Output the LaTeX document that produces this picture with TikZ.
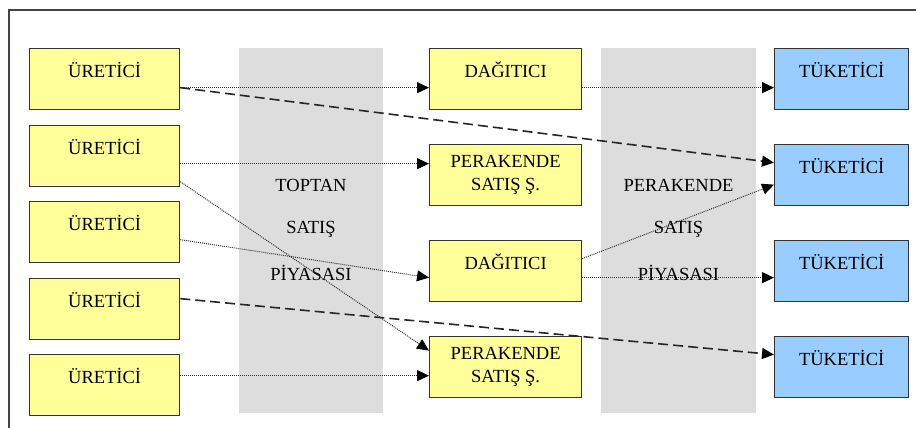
\documentclass[tikz,border=0pt]{standalone}
\usepackage{fontspec}
\setmainfont{Liberation Serif}
\usetikzlibrary{arrows.meta}
\definecolor{yel}{HTML}{FFFF99}
\definecolor{blu}{HTML}{99CCFF}
\definecolor{band}{HTML}{DDDDDD}
\definecolor{edge}{HTML}{333333}
\definecolor{frame}{HTML}{444444}
\tikzset{
  box/.style={draw=edge, line width=1.3pt, rectangle, inner sep=0pt, anchor=north west},
  lbl/.style={anchor=center, yshift=-22pt, font=\fontsize{18.5}{23}\selectfont, inner sep=0pt},
  lbltwo/.style={anchor=center, yshift=-30.5pt, align=center, font=\fontsize{18.5}{23}\selectfont, inner sep=0pt},
  ubox/.style={box, fill=yel, minimum width=150pt, minimum height=61pt, label={[lbl]north:#1}},
  mbox/.style={box, fill=yel, minimum width=152pt, minimum height=61pt, label={[lbl]north:#1}},
  pbox/.style={box, fill=yel, minimum width=152pt, minimum height=61pt, label={[lbltwo]north:#1}},
  tbox/.style={box, fill=blu, minimum width=134pt, minimum height=61pt, label={[lbl]north:#1}},
  bandtxt/.style={font=\fontsize{18.5}{23}\selectfont, inner sep=0pt},
  dotline/.style={draw=edge, line width=1pt, dash pattern=on 1pt off 1pt, -{Triangle[length=12pt,width=11pt,color=black]}},
  dashline/.style={draw=black!85, line width=1.6pt, dash pattern=on 10pt off 5pt, -{Triangle[length=12pt,width=11pt,color=black]}},
}
\begin{document}
\begin{tikzpicture}[x=1pt,y=-1pt]
\useasboundingbox (0,0) rectangle (916,428);
\fill[white] (0,0) rectangle (916,428);
% frame
\draw[frame, line width=1.4pt] (9,428) -- (9,10) -- (916,10);
% bands
\fill[band] (239,48) rectangle (383,413);
\fill[band] (601,48) rectangle (756,413);
\node[bandtxt] (b1a) at (311,185) {TOPTAN};
\node[bandtxt] (b1b) at (311,229) {SATIŞ};
\node[bandtxt] (b1c) at (311,273) {PİYASASI};
\node[bandtxt] (b2a) at (678.5,185) {PERAKENDE};
\node[bandtxt] (b2b) at (678.5,229) {SATIŞ};
\node[bandtxt] (b2c) at (678.5,273) {PİYASASI};
% boxes
\node[ubox={ÜRETİCİ}] (u1) at (29,48) {};
\node[ubox={ÜRETİCİ}] (u2) at (29,124.5) {};
\node[ubox={ÜRETİCİ}] (u3) at (29,201) {};
\node[ubox={ÜRETİCİ}] (u4) at (29,277.5) {};
\node[ubox={ÜRETİCİ}] (u5) at (29,354) {};
\node[mbox={DAĞITICI}] (d1) at (429,48) {};
\node[pbox={PERAKENDE\\SATIŞ Ş.}] (p1) at (429,144) {};
\node[mbox={DAĞITICI}] (d2) at (429,240) {};
\node[pbox={PERAKENDE\\SATIŞ Ş.}] (p2) at (429,336) {};
\node[tbox={TÜKETİCİ}] (t1) at (774,48) {};
\node[tbox={TÜKETİCİ}] (t2) at (774,144) {};
\node[tbox={TÜKETİCİ}] (t3) at (774,240) {};
\node[tbox={TÜKETİCİ}] (t4) at (774,336) {};
% connectors
\draw[dotline] ([yshift=-8.5pt]u1.east) -- ([yshift=-8.5pt]d1.west);
\draw[dashline] ([yshift=-8.5pt]u1.east) -- ([yshift=12.5pt]t2.west);
\draw[dotline] ([yshift=-8.5pt]d1.east) -- ([yshift=-8.5pt]t1.west);
\draw[dotline] ([yshift=-8pt]u2.east) -- ([yshift=11.5pt]p1.west);
\draw[dotline] ([yshift=-26pt]u2.east) -- ([yshift=16.5pt]p2.west);
\draw[dotline] ([yshift=-7.5pt]u3.east) -- ([yshift=-6.5pt]d2.west);
\draw[dashline] ([yshift=10pt]u4.east) -- ([yshift=12.5pt]t4.west);
\draw[dotline] ([yshift=9.5pt]u5.east) -- ([yshift=-8.5pt]p2.west);
\draw[dotline] ([yshift=12.5pt]d2.east) -- ([yshift=-9.5pt]t2.west);
\draw[dotline] ([yshift=-6.5pt]d2.east) -- ([yshift=-6.5pt]t3.west);
\end{tikzpicture}
\end{document}
